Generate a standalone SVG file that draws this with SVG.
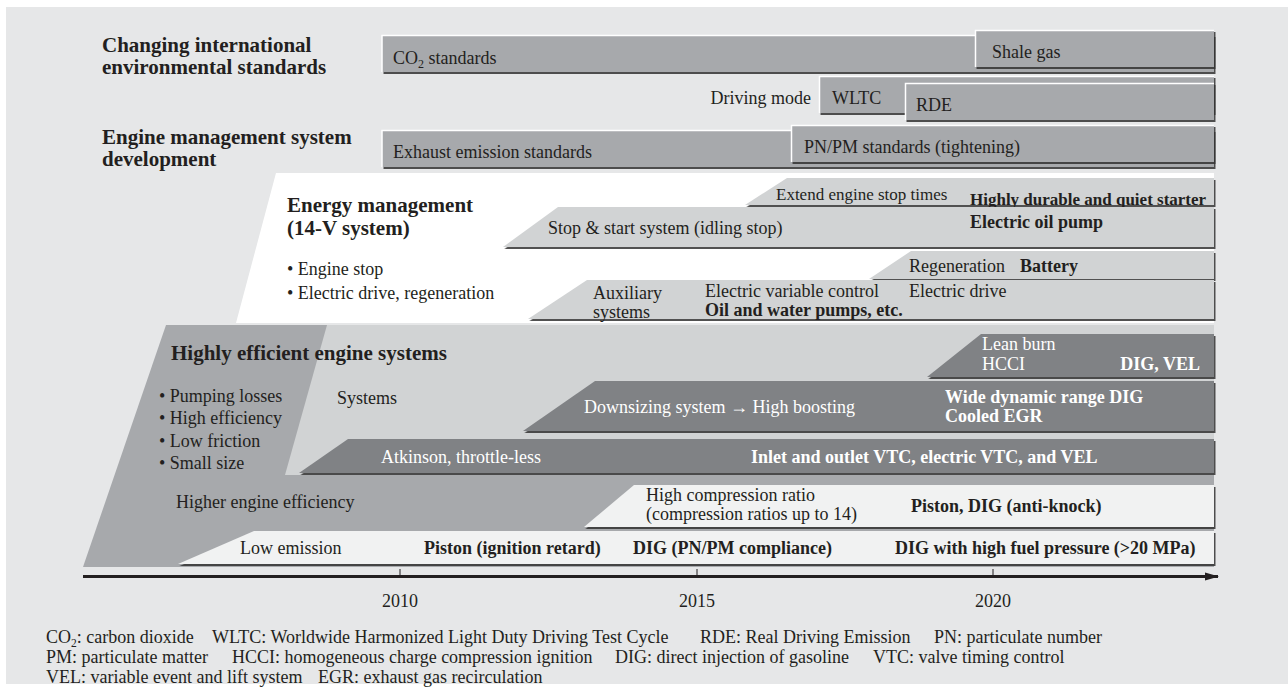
<svg xmlns="http://www.w3.org/2000/svg" width="1288" height="690" viewBox="0 0 1288 690">
<defs>
<filter id="sh" x="-5%" y="-30%" width="110%" height="170%">
<feDropShadow dx="1.5" dy="2" stdDeviation="0.7" flood-color="#333" flood-opacity="0.85"/>
</filter>
<marker id="arr" markerWidth="14" markerHeight="10" refX="13" refY="5" orient="auto" markerUnits="userSpaceOnUse">
<path d="M0,1 L14,5 L0,9 Z" fill="#231f20"/>
</marker>
<style>
text{font-family:"Liberation Serif","Times New Roman",serif;fill:#231f20;font-size:18px}
.h{font-weight:bold;font-size:21px}
.b{font-weight:bold}
.w{fill:#ffffff}
.s17{font-size:17px}
.mid{fill:#a7a9ac}
.lt{fill:#d1d3d4}
.dk{fill:#808285}
.vl{fill:#f1f2f2}
.bar{filter:url(#sh)}
.hl{stroke:#ffffff;stroke-width:1.5;fill:none}
.fn{font-size:18px}
</style>
</defs>
<rect x="6" y="7" width="1282" height="677" fill="#e6e7e8"/>

<g id="titles">
<text class="h" x="102" y="52">Changing international</text>
<text class="h" x="102" y="74">environmental standards</text>
<text class="h" x="102" y="144">Engine management system</text>
<text class="h" x="102" y="166">development</text>
</g>

<g id="co2-standards">
<rect class="mid bar" x="382" y="35" width="832" height="37"/>
<path class="hl" d="M382,72 V35.5 H1214"/>
<text x="393" y="64">CO<tspan font-size="12" dy="4">2</tspan><tspan dy="-4"> standards</tspan></text>
</g>
<g id="shale-gas">
<rect class="mid bar" x="975" y="30" width="239" height="37"/>
<path class="hl" d="M975.5,67 V30.5 H1214"/>
<text x="992" y="58">Shale gas</text>
</g>

<g id="driving-mode">
<text x="811" y="104" text-anchor="end">Driving mode</text>
<rect class="mid bar" x="819" y="76" width="395" height="37"/>
<path class="hl" d="M819.5,113 V76.5 H1214"/>
<text x="832" y="104">WLTC</text>
<rect class="mid bar" x="905" y="83" width="309" height="37"/>
<path class="hl" d="M905.5,120 V83.5 H1214"/>
<text x="916" y="111">RDE</text>
</g>

<g id="exhaust-standards">
<rect class="mid bar" x="382" y="130" width="832" height="37"/>
<path class="hl" d="M382,167 V130.5 H1214"/>
<text x="393" y="158">Exhaust emission standards</text>
</g>
<g id="pnpm-standards">
<rect class="mid bar" x="791" y="125" width="423" height="37"/>
<path class="hl" d="M791.5,162 V125.5 H1214"/>
<text x="804" y="153">PN/PM standards (tightening)</text>
</g>

<g id="energy-management">
<polygon points="276,173 1214,173 1214,323 236,323" fill="#ffffff"/>
<text class="h" x="287" y="212">Energy management</text>
<text class="h" x="287" y="235">(14-V system)</text>
<text x="287" y="275">• Engine stop</text>
<text x="287" y="299">• Electric drive, regeneration</text>
</g>
<g id="extend-stop">
<polygon class="lt bar" points="787,178 1214,178 1214,205 745,205"/>
<text class="s17" x="776" y="200">Extend engine stop times</text>
<text class="b s17" x="970" y="205">Highly durable and quiet starter</text>
</g>
<g id="stop-start">
<polygon class="lt bar" points="558,207 1214,207 1214,247 503,247"/>
<text x="548" y="234">Stop &amp; start system (idling stop)</text>
<text class="b" x="970" y="228">Electric oil pump</text>
</g>
<g id="regeneration">
<polygon class="lt bar" points="911,251 1214,251 1214,279 869,279"/>
<text x="909" y="272">Regeneration</text>
<text class="b" x="1020" y="272">Battery</text>
</g>
<g id="auxiliary">
<polygon class="lt bar" points="587,280 1214,280 1214,319 528,319"/>
<text x="593" y="299">Auxiliary</text>
<text x="593" y="318">systems</text>
<text x="705" y="297">Electric variable control</text>
<text x="909" y="297">Electric drive</text>
<text class="b" x="705" y="316">Oil and water pumps, etc.</text>
</g>

<g id="efficient-engine">
<polygon class="mid" points="166,325 1214,325 1214,567 83,567"/>
<polygon class="lt" points="327,325 1214,325 1214,475 285,475"/>
<text class="h" x="171" y="360">Highly efficient engine systems</text>
<text x="159" y="402">• Pumping losses</text>
<text x="159" y="424">• High efficiency</text>
<text x="159" y="447">• Low friction</text>
<text x="159" y="469">• Small size</text>
<text x="337" y="404">Systems</text>
<text x="176" y="508">Higher engine efficiency</text>
</g>
<g id="lean-burn">
<polygon class="dk bar" points="981,334 1214,334 1214,377 927,377"/>
<text class="w" x="982" y="350">Lean burn</text>
<text class="w" x="982" y="370">HCCI</text>
<text class="w b" x="1200" y="370" text-anchor="end">DIG, VEL</text>
</g>
<g id="downsizing">
<polygon class="dk bar" points="595,381 1214,381 1214,431 523,431"/>
<text class="w" x="584" y="413">Downsizing system → High boosting</text>
<text class="w b" x="945" y="403">Wide dynamic range DIG</text>
<text class="w b" x="945" y="422">Cooled EGR</text>
</g>
<g id="atkinson">
<polygon class="dk bar" points="348,439 1214,439 1214,473 299,473"/>
<text class="w" x="381" y="463">Atkinson, throttle-less</text>
<text class="w b" x="751" y="463">Inlet and outlet VTC, electric VTC, and VEL</text>
</g>
<g id="high-compression">
<polygon class="vl bar" points="634,485 1214,485 1214,527 584,527"/>
<text x="646" y="501">High compression ratio</text>
<text x="646" y="520">(compression ratios up to 14)</text>
<text class="b" x="911" y="512">Piston, DIG (anti-knock)</text>
</g>
<g id="low-emission">
<polygon class="vl bar" points="254,531 1214,531 1214,564 178,564"/>
<text x="240" y="554">Low emission</text>
<text class="b" x="424" y="554">Piston (ignition retard)</text>
<text class="b" x="633" y="554">DIG (PN/PM compliance)</text>
<text class="b" x="895" y="554">DIG with high fuel pressure (&gt;20 MPa)</text>
</g>

<g id="connectors">
<line x1="83" y1="576.5" x2="1218" y2="576.5" stroke="#231f20" stroke-width="3" marker-end="url(#arr)"/>
<g stroke="#231f20" stroke-width="1">
<line x1="400" y1="569" x2="400" y2="576"/>
<line x1="697" y1="569" x2="697" y2="576"/>
<line x1="993" y1="569" x2="993" y2="576"/>
</g>
</g>
<g id="years">
<text x="400" y="607" text-anchor="middle">2010</text>
<text x="697" y="607" text-anchor="middle">2015</text>
<text x="993" y="607" text-anchor="middle">2020</text>
</g>

<g id="footnotes">
<text class="fn" y="643"><tspan x="46">CO<tspan font-size="11.5" dy="4">2</tspan><tspan dy="-4">: carbon dioxide</tspan></tspan><tspan x="212">WLTC: Worldwide Harmonized Light Duty Driving Test Cycle</tspan><tspan x="700">RDE: Real Driving Emission</tspan><tspan x="934">PN: particulate number</tspan></text>
<text class="fn" y="663"><tspan x="46">PM: particulate matter</tspan><tspan x="232">HCCI: homogeneous charge compression ignition</tspan><tspan x="615">DIG: direct injection of gasoline</tspan><tspan x="873">VTC: valve timing control</tspan></text>
<text class="fn" y="683"><tspan x="46">VEL: variable event and lift system</tspan><tspan x="318">EGR: exhaust gas recirculation</tspan></text>
</g>
</svg>
